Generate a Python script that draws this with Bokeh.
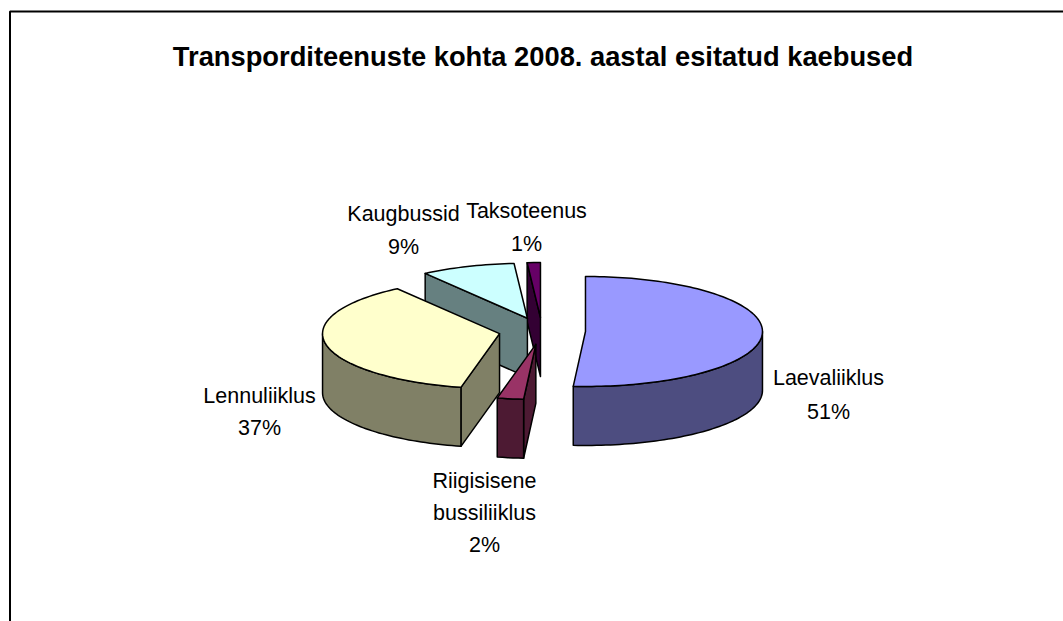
import math
from bokeh.plotting import figure
from bokeh.embed import file_html
from bokeh.resources import INLINE
from bokeh.core.properties import value

# --- data (percent shares, clockwise from 12 o'clock) ---
categories = ["Laevaliiklus", "Riigisisene bussiliiklus", "Lennuliiklus", "Kaugbussid", "Taksoteenus"]
shares = [51.1, 2.4, 36.7, 8.6, 1.2]
tick_pct = ["51%", "2%", "37%", "9%", "1%"]
top_colors = ["#9999FF", "#993366", "#FFFFCC", "#CCFFFF", "#660066"]
side_colors = ["#4D4D80", "#4D1A33", "#808066", "#668080", "#330033"]
title = "Transporditeenuste kohta 2008. aastal esitatud kaebused"

# --- layout ---
CX, CY = 541.6, 330.5
RX, RY = 177.0, 55.0
EX, EY = 43.4, 13.5
DEPTH = 59.0
INK = "#000000"

W, H = 1063, 621
p = figure(width=W, height=H, x_range=(0, W), y_range=(H, 0),
           output_backend="svg", toolbar_location=None, min_border=0)
p.axis.visible = False
p.grid.visible = False
p.outline_line_color = None
p.background_fill_color = "#FFFFFF"
p.border_fill_color = "#FFFFFF"

# frame: only the top and left edges fall inside the visible part
p.line([9.5, 9.5, W], [H, 11, 11], line_color=INK, line_width=2)


def rim(ax, ay, deg):
    r = math.radians(deg)
    return ax + RX * math.sin(r), ay - RY * math.cos(r)


def arc(ax, ay, a0, a1):
    n = max(2, int(abs(a1 - a0) / 1.5) + 1)
    return [rim(ax, ay, a0 + (a1 - a0) * i / (n - 1)) for i in range(n)]


slices = []
acc = 0.0
for i, s in enumerate(shares):
    a0 = acc / sum(shares) * 360
    acc += s
    a1 = acc / sum(shares) * 360
    mid = math.radians((a0 + a1) / 2)
    ax = CX + EX * math.sin(mid)
    ay = CY - EY * math.cos(mid)
    slices.append((ay, i, ax, a0, a1))

for ay, i, ax, a0, a1 in sorted(slices, key=lambda t: t[0]):
    polys = []
    # cut faces facing the viewer
    if 180 < a0 < 360:
        rx_, ry_ = rim(ax, ay, a0)
        polys.append([(ax, ay), (rx_, ry_), (rx_, ry_ + DEPTH), (ax, ay + DEPTH)])
    if 0 < a1 < 180:
        rx_, ry_ = rim(ax, ay, a1)
        polys.append([(ax, ay), (rx_, ry_), (rx_, ry_ + DEPTH), (ax, ay + DEPTH)])
    # outer wall: the front half of the rim
    w0, w1 = max(a0, 90), min(a1, 270)
    if w1 > w0:
        top = arc(ax, ay, w0, w1)
        polys.append(top + [(x, y + DEPTH) for x, y in reversed(top)])
    for poly in polys:
        p.patch([q[0] for q in poly], [q[1] for q in poly], fill_color=side_colors[i],
                line_color=INK, line_width=1.5, line_join="round")
    face = [(ax, ay)] + arc(ax, ay, a0, a1)
    p.patch([q[0] for q in face], [q[1] for q in face], fill_color=top_colors[i],
            line_color=INK, line_width=1.5, line_join="round")

# title
p.text([542.5], [56], text=[title], text_font=value("Liberation Sans"), text_font_style="bold",
       text_font_size="27.3px", text_align="center", text_baseline="middle", text_color=INK)

# labels: one text per line
label_lines = [
    (0, ["Laevaliiklus", tick_pct[0]], 828, [377, 411]),
    (1, ["Riigisisene", "bussiliiklus", tick_pct[1]], 484, [480, 512, 544]),
    (2, ["Lennuliiklus", tick_pct[2]], 259, [395, 427]),
    (3, ["Kaugbussid", tick_pct[3]], 403, [213.5, 246]),
    (4, ["Taksoteenus", tick_pct[4]], 526, [210, 243]),
]
for _, lines, x, ys in label_lines:
    p.text([x] * len(lines), ys, text=lines, text_font=value("Liberation Sans"),
           text_font_size="21.5px", text_align="center", text_baseline="middle", text_color=INK)

open("out.html", "w").write(file_html(p, INLINE))
